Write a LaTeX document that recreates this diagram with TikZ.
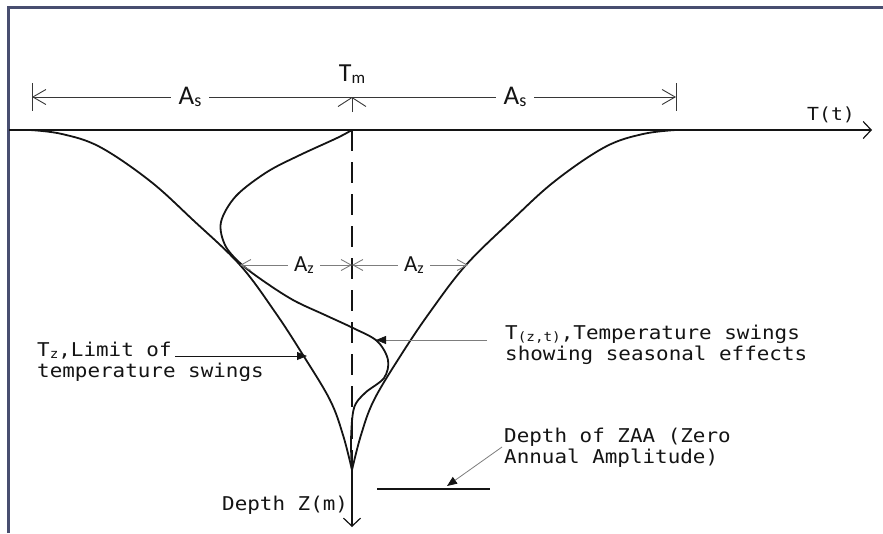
\documentclass[tikz,border=0pt]{standalone}
\usepackage{fontspec}
\setmainfont{Carlito}
\newfontfamily\monofont[FakeStretch=1.1]{DejaVu Sans Mono}
\usetikzlibrary{arrows.meta}
\definecolor{framenavy}{RGB}{72,78,112}
\definecolor{dimgrey}{RGB}{125,125,125}
\definecolor{inkblack}{RGB}{20,20,20}
\newcommand{\lowsub}[2][15]{\raisebox{-2pt}{\fontsize{#1}{#1}\selectfont #2}}

\begin{document}
\begin{tikzpicture}[x=1pt, y=-1pt,
  curve/.style={inkblack, line width=1.8pt, line join=round},
  axis/.style={inkblack, line width=1.2pt, -{Straight Barb[length=8pt,width=17pt]}},
  dim/.style={inkblack!85, line width=0.9pt},
  dimarr/.style={dim, -{Straight Barb[length=13pt,width=15pt]}},
  azarr/.style={dimgrey, line width=0.9pt,
    {Straight Barb[length=10pt,width=11pt]}-{Straight Barb[length=10pt,width=11pt]}},
  lead/.style={line width=0.8pt, -{Triangle[length=10pt,width=8pt,color=inkblack]}},
  sslabel/.style={font=\fontsize{27}{27}\selectfont, text=inkblack, inner sep=0pt},
  txt/.style={font=\monofont\fontsize{19}{21}\selectfont, text=inkblack, align=left, inner sep=0pt}]
\useasboundingbox (0,0) rectangle (883,533);
% frame
\draw[framenavy, line width=2.5pt] (8.5,533) |- (883,7.5);

% axes
\coordinate (o) at (352,130);
\coordinate (tend) at (872,130);
\coordinate (zmid) at (352,470);
\coordinate (zend) at (352,527);
\draw[axis] (9,130) -- (tend);
\draw[inkblack, line width=1.6pt, dash pattern=on 21pt off 11pt] (o) -- (zmid);
\draw[axis] (zmid) -- (zend);

% envelopes T_z
\draw[curve] plot[smooth, tension=0.6] coordinates {(30,130) (62,134) (100,147) (150,181) (193,220)
  (240,265) (275,312) (303,355) (330,400) (343,435) (352,470)};
\draw[curve] plot[smooth, tension=0.6] coordinates {(676,130) (643,134) (605,147) (555,181) (512,220)
  (466,265) (430,312) (401,355) (374,400) (361,435) (352,470)};
% T(z,t)
\draw[curve] plot[smooth, tension=0.55] coordinates {(352,130) (337,138) (300,155) (267,172) (236,196)
  (221,222) (225,245) (240,263) (262,280) (293,300) (325,315) (353,328) (377,341) (388,360)
  (384,378) (365,393) (354,408) (351,440) (352,470)};

% A_s dimension
\coordinate (dimc) at (352,97);
\coordinate (diml) at (32,97);
\coordinate (dimr) at (676,97);
\coordinate (dimb) at (352,112);
\draw[dim] ([yshift=14pt]diml) -- ([yshift=-14pt]diml);
\draw[dim] ([yshift=14pt]dimr) -- ([yshift=-14pt]dimr);
\draw[dimarr] (dimc) -- (diml);
\draw[dimarr] (dimc) -- (dimr);
\draw[dim, -{Straight Barb[length=9pt,width=28pt]}] (dimb) -- (dimc);
\node[sslabel, fill=white, inner xsep=8pt, anchor=base] (asl) at (190,104) {A\lowsub[18]{s}};
\node[sslabel, fill=white, inner xsep=8pt, anchor=base] (asr) at (515,104) {A\lowsub[18]{s}};
\node[sslabel, font=\fontsize{26}{26}\selectfont, anchor=base] (tm) at (352,81) {T\lowsub[17]{m}};
\node[txt, font=\monofont\fontsize{18}{18}\selectfont, anchor=base] (tt) at (831,120) {T(t)};

% A_z dimension
\coordinate (azc) at (352,265);
\coordinate (azl) at (240,265);
\coordinate (azr) at (468,265);
\draw[azarr] (azc) -- (azl);
\draw[azarr] (azc) -- (azr);
\node[sslabel, font=\fontsize{23}{23}\selectfont, fill=white, inner xsep=6pt, anchor=base] (azlt) at (304,271) {A\lowsub[16]{z}};
\node[sslabel, font=\fontsize{23}{23}\selectfont, fill=white, inner xsep=6pt, anchor=base] (azrt) at (414,271) {A\lowsub[16]{z}};

% labels and leaders
\node[txt, anchor=west] (tzlbl) at (37,362) {T\lowsub[13]{z},Limit of\\temperature swings};
\coordinate (tzfrom) at (175,356);
\coordinate (tztip) at (307,356);
\draw[lead, inkblack] (tzfrom) -- (tztip);

\node[txt, anchor=west] (tztlbl) at (505,345) {T\lowsub[13]{(z,t)},Temperature swings\\showing seasonal effects};
\coordinate (tztfrom) at (487,340);
\coordinate (tzttip) at (376,340);
\draw[lead, dimgrey] (tztfrom) -- (tzttip);

\coordinate (zaal) at (377,489);
\coordinate (zaar) at (490,489);
\draw[curve] (zaal) -- (zaar);
\node[txt, anchor=west] (zaalbl) at (504,448) {Depth of ZAA (Zero\\Annual Amplitude)};
\coordinate (zaafrom) at (502,447);
\coordinate (zaatip) at (447,486);
\draw[lead, dimgrey] (zaafrom) -- (zaatip);

\node[txt, anchor=base west] (depth) at (222,510) {Depth Z(m)};
\end{tikzpicture}
\end{document}
